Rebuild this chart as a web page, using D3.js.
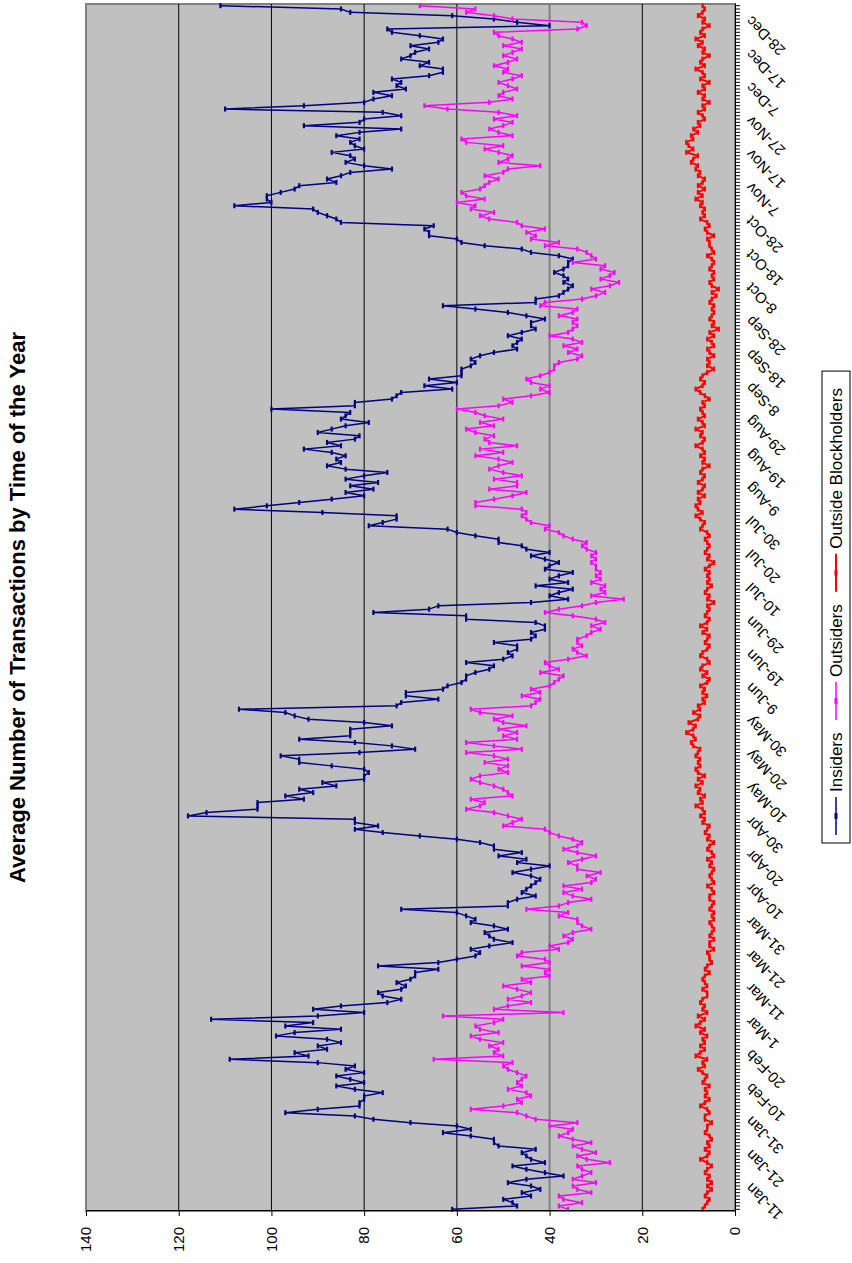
<!DOCTYPE html>
<html>
<head>
<meta charset="utf-8">
<title>Average Number of Transactions by Time of the Year</title>
<script src="https://cdn.jsdelivr.net/npm/d3@7/dist/d3.min.js"></script>
<style>
  body { margin: 0; background: #ffffff; }
  svg { display: block; }
  text { font-family: "Liberation Sans", Arial, sans-serif; fill: #000000; }
</style>
</head>
<body>
<div id="chart"></div>
<script>
/** Daily averages, one value per calendar category (11-Jan label sits on index 6) */
var insiders = [
  61,47,48,50,44,46,42,44,49,45,
  37,41,45,48,41,44,45,46,43,51,
  52,52,57,63,57,60,70,78,82,97,
  90,81,81,80,80,76,82,86,80,83,
  86,80,84,82,90,109,92,95,88,90,
  85,88,99,95,85,97,91,113,90,80,
  91,85,75,72,76,77,72,71,73,70,
  69,69,64,77,64,60,56,55,57,53,
  48,52,53,54,49,52,57,56,58,60,
  72,49,49,47,43,46,45,44,43,42,
  44,48,44,40,47,45,51,46,52,52,
  55,60,68,76,82,77,82,82,118,114,
  103,103,103,93,97,91,94,86,89,80,
  80,79,80,87,94,94,98,81,69,74,
  82,94,83,83,83,74,80,92,95,97,
  107,73,72,64,71,71,63,62,59,58,
  58,56,53,52,58,50,48,49,47,47,
  52,44,43,44,41,41,43,58,58,78,
  66,64,44,36,40,38,35,43,36,40,
  38,35,41,40,38,41,44,40,45,46,
  51,51,56,60,62,79,76,73,73,89,
  108,101,94,87,80,84,78,83,77,84,
  80,75,84,88,85,86,84,87,93,85,
  88,82,81,90,87,84,79,85,84,83,
  100,82,82,74,73,72,61,67,60,66,
  59,59,59,57,56,57,55,52,47,48,
  47,46,49,46,43,44,44,41,45,49,
  56,63,43,43,38,37,36,35,37,36,
  37,39,37,36,36,35,38,44,46,54,
  59,60,66,66,67,65,85,86,88,90,
  91,108,100,101,101,98,95,94,86,88,
  85,83,74,80,84,82,83,87,80,82,
  83,81,86,81,72,93,81,80,72,76,
  110,93,80,78,74,78,71,73,72,74,
  66,63,63,68,66,72,70,69,66,70,
  64,63,68,74,75,40,47,52,61,83,
  85,111
];
var outsiders = [
  36,38,33,37,38,31,34,35,30,35,
  33,31,33,34,27,32,34,30,33,35,
  31,35,38,36,35,40,34,43,45,47,
  57,50,46,47,44,45,49,46,47,46,
  45,47,49,50,48,65,50,52,51,53,
  50,55,57,51,55,56,52,50,63,37,
  52,49,44,49,46,44,47,50,44,46,
  40,41,40,46,40,41,47,46,38,40,
  36,35,37,35,31,33,34,34,38,36,
  45,38,36,31,35,37,33,37,31,30,
  32,29,34,34,36,33,30,34,37,34,
  33,35,38,40,41,50,48,46,49,52,
  58,55,54,57,48,49,50,52,55,57,
  55,49,51,49,54,49,52,58,46,52,
  58,47,50,47,51,45,50,52,48,55,
  57,44,43,42,46,42,44,40,39,38,
  37,42,38,40,41,36,32,34,35,33,
  34,34,32,31,29,31,28,30,35,41,
  38,33,30,24,31,28,29,28,31,29,
  30,29,30,30,31,30,31,30,32,33,
  32,35,37,38,41,40,44,45,46,45,
  46,56,56,52,48,45,53,47,47,52,
  46,50,53,51,48,51,56,50,55,47,
  53,54,52,56,58,52,55,50,54,56,
  60,51,48,50,44,40,42,40,44,45,
  42,40,39,39,38,34,33,36,34,37,
  33,35,40,36,35,34,35,34,38,35,
  34,42,41,33,30,28,31,27,25,29,
  27,26,29,28,35,30,31,32,34,41,
  38,44,43,45,41,46,47,53,55,52,
  57,56,60,54,58,59,55,54,53,51,
  54,50,49,42,51,49,48,51,54,50,
  58,59,48,51,53,50,48,52,47,51,
  62,67,53,48,51,50,47,49,51,48,
  46,50,49,52,49,47,50,48,46,50,
  46,48,51,52,34,32,33,48,52,58,
  56,68
];
var blockholders = [
  7,6.5,6,5.5,6.5,6,5,6,5,6,
  5.5,6.5,6,5,6,7.5,6,5.5,6.5,5.5,
  6,5,5.5,6.5,6,6,5,6.5,6.5,5.5,
  6,7.5,6.5,5.5,6.5,6,6.5,5.5,7,6.5,
  6,7,8,6.5,7,6,8.5,7.5,6.5,7.5,
  6.5,7,6,7.5,6.5,8.5,7.5,6.5,8,6,
  7,6.5,7.5,7,6,6,7,6,6.5,7,
  6.5,5.5,6.5,6,5,5.5,5.5,6,4.5,5.5,
  5.5,4.5,5.5,5,4.5,5,5.5,4.5,5,4.5,
  5.5,5,4.5,5.5,5.5,4.5,5,6,4.5,5,
  5.5,5,4.5,5.5,5,6,4.5,5,6,5.5,
  4.5,6,5.5,6.5,6,5.5,7,6.5,7.5,6.5,
  7,8.5,7,7.5,6.5,8,7.5,8.5,7,8,
  6.5,8,8.5,7.5,8,7.5,8.5,8,7.5,9,
  9.5,8.5,9,10.5,9,8.5,10,8,7.5,9,
  7.5,8,6.5,7,6,7,6.5,7.5,6,5.5,
  7,6,7.5,7,5.5,6,7.5,7,6,5.5,
  6.5,6,5.5,7,6,7.5,6,5.5,6.5,6,
  5.5,6,4.5,6,5.5,6.5,6,5,6,5.5,
  6,5.5,6.5,5.5,4.5,6,5.5,6.5,6,5.5,
  6,6.5,5.5,6,7.5,7,6.5,7.5,8.5,7,
  8,8.5,7.5,8,6.5,8,7,6.5,8,7,
  6.5,7.5,7,5.5,7,6.5,7.5,6.5,7,8.5,
  7,6.5,7.5,7,8.5,6.5,7,8,6.5,7,
  7.5,6.5,7,5.5,6.5,7.5,8.5,7,6.5,7.5,
  7,6,4.5,6,5.5,6,4.5,5.5,6,4.5,
  5,6,4.5,5.5,3.5,5,4.5,5.5,5,4.5,
  5,4.5,5.5,5,4,5,3.5,5,5.5,4.5,
  5,4.5,5.5,5,4.5,5,6,4.5,5,5.5,
  5.5,6,4.5,6,6.5,5.5,6,7.5,6.5,7,
  6.5,7.5,7,8.5,7,8,6.5,8,7,6.5,
  8,7.5,8.5,8,9.5,9,8,10.5,9,10,
  10.5,9,9.5,8,9,7.5,8,6.5,7,8,
  6.5,7,5.5,7,6.5,8,6.5,7,5.5,7.5,
  6.5,7,8.5,6.5,7.5,7,5.5,7,6.5,8,
  7,8.5,6.5,7.5,7,5.5,7,6.5,8,7,
  6.5,7
];
var dateLabels = ["11-Jan","21-Jan","31-Jan","10-Feb","20-Feb","1-Mar","11-Mar","21-Mar","31-Mar",
  "10-Apr","20-Apr","30-Apr","10-May","20-May","30-May","9-Jun","19-Jun","29-Jun","10-Jul",
  "20-Jul","30-Jul","9-Aug","19-Aug","29-Aug","8-Sep","18-Sep","28-Sep","8-Oct","18-Oct",
  "28-Oct","7-Nov","17-Nov","27-Nov","7-Dec","17-Dec","28-Dec"];
var firstLabel = 6;
var labelStep = 10;
var valueTicks = [0, 20, 40, 60, 80, 100, 120, 140];
var seriesNames = ["Insiders", "Outsiders", "Outside Blockholders"];
var seriesColors = ["#000080", "#ff00ff", "#ff0000"];
var chartTitle = "Average Number of Transactions by Time of the Year";

/** Page is portrait; the chart is laid out landscape and turned a quarter left */
var pageW = 852, pageH = 1263;
var plot = { left: 52, right: 1259, top: 86, bottom: 735 };

var svg = d3.select("#chart").append("svg")
  .attr("width", pageW)
  .attr("height", pageH);
svg.append("rect").attr("width", pageW).attr("height", pageH).attr("fill", "#ffffff");

var chart = svg.append("g")
  .attr("transform", "translate(0," + pageH + ") rotate(-90)");

var x = d3.scaleBand().domain(d3.range(insiders.length)).range([plot.left, plot.right]);
var y = d3.scaleLinear().domain([0, 140]).range([plot.bottom, plot.top]);
var half = x.bandwidth() / 2;

/** Plot area */
chart.append("rect")
  .attr("x", plot.left).attr("y", plot.top)
  .attr("width", plot.right - plot.left).attr("height", plot.bottom - plot.top)
  .attr("fill", "#c0c0c0")
  .attr("stroke", "#808080").attr("stroke-width", 2);

chart.append("g").selectAll("line")
  .data(valueTicks.filter(function(v){ return v > 0 && v < 140; }))
  .enter().append("line")
  .attr("x1", plot.left).attr("x2", plot.right)
  .attr("y1", function(v){ return y(v); })
  .attr("y2", function(v){ return y(v); })
  .attr("stroke", function(v){ return v === 40 ? "#808080" : "#000000"; })
  .attr("stroke-width", function(v){ return v === 40 ? 2 : 1; });

/** Series: line plus a dash marker on every point */
var line = d3.line()
  .x(function(d, i){ return x(i) + half; })
  .y(function(d){ return y(d); });

[insiders, outsiders, blockholders].forEach(function(values, s){
  var grp = chart.append("g");
  var width = s === 2 ? 2 : 1.5;
  grp.append("path").datum(values)
    .attr("d", line)
    .attr("fill", "none")
    .attr("stroke", seriesColors[s])
    .attr("stroke-width", width)
    .attr("stroke-linejoin", "round");
  grp.selectAll("line").data(values).enter().append("line")
    .attr("x1", function(d, i){ return x(i) + half - 2.5; })
    .attr("x2", function(d, i){ return x(i) + half + 2.5; })
    .attr("y1", function(d){ return y(d); })
    .attr("y2", function(d){ return y(d); })
    .attr("stroke", seriesColors[s])
    .attr("stroke-width", 2.2);
});

/** Category axis (dates) */
var xAxis = d3.axisBottom(x)
  .tickSize(5).tickSizeOuter(0)
  .tickFormat(function(i){
    var k = (i - firstLabel) / labelStep;
    return (k >= 0 && k % 1 === 0 && k < dateLabels.length) ? dateLabels[k] : "";
  });
var gx = chart.append("g")
  .attr("transform", "translate(0," + plot.bottom + ")")
  .call(xAxis)
  .attr("font-size", 15)
  .attr("font-family", null);
gx.selectAll(".tick text").filter(function(){ return this.textContent === ""; }).remove();
gx.selectAll(".tick text")
  .attr("text-anchor", "end")
  .attr("x", -7).attr("y", 12).attr("dy", "0.35em")
  .attr("transform", "rotate(-45)");
gx.selectAll("line, path").attr("stroke", "#000000");

/** Value axis */
var yAxis = d3.axisLeft(y).tickValues(valueTicks).tickSize(5).tickSizeOuter(0).tickPadding(11);
var gy = chart.append("g")
  .attr("transform", "translate(" + plot.left + ",0)")
  .call(yAxis)
  .attr("font-size", 15)
  .attr("font-family", null);
gy.selectAll("line, path").attr("stroke", "#000000");

/** Title */
chart.append("text")
  .attr("x", (plot.left + plot.right) / 2)
  .attr("y", 25)
  .attr("text-anchor", "middle")
  .attr("font-weight", "bold")
  .attr("font-size", 22)
  .text(chartTitle);

/** Legend */
var legend = chart.append("g");
var legendBox = legend.append("rect")
  .attr("y", 822).attr("height", 28)
  .attr("fill", "#ffffff").attr("stroke", "#000000").attr("stroke-width", 1);
var cursor = 428, midY = 836;
seriesNames.forEach(function(name, s){
  legend.append("line")
    .attr("x1", cursor).attr("x2", cursor + 38)
    .attr("y1", midY).attr("y2", midY)
    .attr("stroke", seriesColors[s]).attr("stroke-width", s === 2 ? 2 : 1.5);
  legend.append("rect")
    .attr("x", cursor + 16).attr("y", midY - 1.5)
    .attr("width", 6).attr("height", 3)
    .attr("fill", seriesColors[s]);
  var t = legend.append("text")
    .attr("x", cursor + 43).attr("y", midY)
    .attr("dy", "0.35em")
    .attr("font-size", 17)
    .text(name);
  cursor = cursor + 43 + t.node().getComputedTextLength() + 12.5;
});
legendBox.attr("x", 420).attr("width", cursor - 12.5 + 17 - 420);
</script>
</body>
</html>
